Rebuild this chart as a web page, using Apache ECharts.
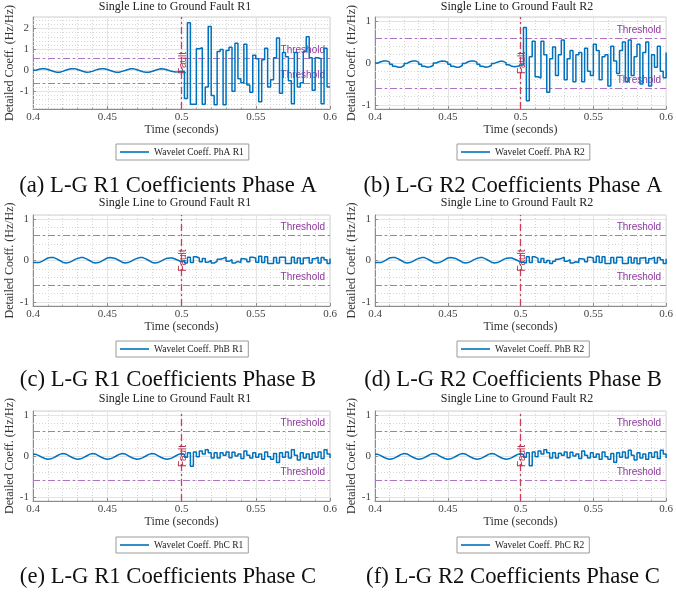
<!DOCTYPE html>
<html>
<head>
<meta charset="utf-8">
<script src="https://cdn.jsdelivr.net/npm/echarts@6/dist/echarts.min.js"></script>
<style>html,body{margin:0;padding:0;background:#fff;}#c{width:676px;height:595px;}</style>
</head>
<body>
<div id="c"></div>
<script>
// ---------- data ----------
const T_START = 0.4;
const T_STEP = 0.002;
const THRESHOLD = 0.6;
const FAULT_TIME = 0.5;
const X_TICKS = [0.4, 0.45, 0.5, 0.55, 0.6];

const titles = ['Single Line to Ground Fault R1', 'Single Line to Ground Fault R2',
                'Single Line to Ground Fault R1', 'Single Line to Ground Fault R2',
                'Single Line to Ground Fault R1', 'Single Line to Ground Fault R2'];
const seriesNames = ['Wavelet Coeff. PhA R1', 'Wavelet Coeff. PhA R2',
                     'Wavelet Coeff. PhB R1', 'Wavelet Coeff. PhB R2',
                     'Wavelet Coeff. PhC R1', 'Wavelet Coeff. PhC R2'];
const captions = ['(a) L-G R1 Coefficients Phase A', '(b) L-G R2 Coefficients Phase A',
                  '(c) L-G R1 Coefficients Phase B', '(d) L-G R2 Coefficients Phase B',
                  '(e) L-G R1 Coefficients Phase C', '(f) L-G R2 Coefficients Phase C'];
const yMin = [-1.85, -1.1, -1.1, -1.1, -1.1, -1.1];
const yMax = [2.55, 1.1, 1.1, 1.1, 1.1, 1.1];

// samples 0.400 ... 0.498 (pre-fault)
const preA = [0.00,0.05,0.08,0.07,0.04,-0.01,-0.06,-0.09,-0.09,-0.05,
              0.00,0.05,0.08,0.08,0.04,-0.01,-0.06,-0.09,-0.08,-0.05,
              0.01,0.05,0.08,0.07,0.04,-0.01,-0.06,-0.09,-0.09,-0.05,
             -0.01,0.04,0.07,0.07,0.03,-0.02,-0.07,-0.09,-0.09,-0.06,
             -0.01,0.04,0.07,0.06,0.03,-0.02,-0.06,-0.08,-0.07,-0.05];
// samples 0.500 ... 0.600 (post-fault)
const postA = [-0.04,-1.35,2.28,-1.62,-1.62,1.03,1.08,-1.62,-0.80,2.10,
               -1.20,-1.65,0.90,1.00,-1.65,0.95,1.10,-1.00,1.30,-0.40,
               -0.60,1.25,-0.70,-1.05,0.72,0.55,-1.50,0.50,1.05,-0.80,
               -0.45,0.60,1.55,-1.10,0.85,0.65,-0.50,-1.60,0.85,-0.80,
               -0.60,0.90,1.60,0.60,-0.95,0.60,0.55,-1.60,1.05,-0.80,-0.80];

const preB = [0.00,0.03,0.05,0.05,0.02,-0.03,-0.08,-0.10,-0.10,-0.06,
             -0.01,0.03,0.05,0.05,0.02,-0.03,-0.08,-0.10,-0.09,-0.06,
              0.00,0.03,0.05,0.04,0.02,-0.03,-0.08,-0.10,-0.10,-0.06,
             -0.01,0.03,0.05,0.05,0.02,-0.03,-0.08,-0.10,-0.09,-0.06,
             -0.01,0.02,0.04,0.04,0.01,-0.04,-0.08,-0.09,-0.08,-0.05];
const postB = [-0.05,0.85,-0.90,0.15,0.52,-0.33,-0.36,0.52,0.20,-0.70,
               0.10,0.38,-0.30,0.20,0.55,-0.40,0.10,0.30,-0.45,0.20,
               0.25,-0.45,0.35,-0.20,-0.30,0.45,0.30,-0.40,0.15,0.20,
              -0.55,0.40,0.05,-0.25,0.30,0.50,-0.45,0.55,-0.30,0.15,
               0.45,-0.50,0.25,0.50,-0.55,0.20,-0.10,0.40,-0.20,-0.35,0.25];

const preC = [-0.05,-0.05,-0.02,0.02,0.06,0.07,0.07,0.04,0.00,-0.04,
              -0.06,-0.05,-0.02,0.02,0.05,0.07,0.07,0.04,0.00,-0.04,
              -0.06,-0.05,-0.02,0.02,0.06,0.07,0.06,0.04,0.00,-0.04,
              -0.06,-0.05,-0.02,0.02,0.05,0.07,0.07,0.04,0.00,-0.04,
              -0.06,-0.05,-0.02,0.02,0.05,0.06,0.06,0.03,0.00,-0.03];
const postC = [0.00,-0.06,0.08,-0.05,0.09,0.06,-0.03,0.05,-0.04,0.00,
              -0.06,-0.02,0.03,0.05,0.08,-0.02,0.02,-0.06,-0.02,-0.05,
               0.04,0.03,-0.03,0.08,0.06,-0.04,0.10,-0.05,0.09,-0.07,
              -0.07,0.07,-0.06,0.08,0.08,-0.07,-0.07,0.08,-0.06,0.06,
              -0.08,0.06,0.07,-0.06,0.04,0.08,-0.06,0.07,0.02,-0.07,0.05];

const preD = [-0.05,-0.05,-0.02,0.02,0.06,0.07,0.07,0.04,0.00,-0.04,
              -0.06,-0.05,-0.02,0.02,0.05,0.07,0.07,0.04,0.00,-0.04,
              -0.06,-0.05,-0.02,0.02,0.06,0.07,0.06,0.04,0.00,-0.04,
              -0.06,-0.05,-0.02,0.02,0.05,0.07,0.07,0.04,0.00,-0.04,
              -0.06,-0.05,-0.02,0.02,0.05,0.06,0.06,0.03,0.00,-0.04];
const postD = [-0.04,-0.06,0.09,-0.05,0.09,0.05,-0.04,0.05,-0.05,0.00,
               -0.07,-0.02,0.03,0.05,0.08,-0.02,0.02,-0.06,-0.03,-0.05,
                0.04,0.03,-0.03,0.08,0.06,-0.04,0.10,-0.05,0.09,-0.07,
               -0.07,0.07,-0.06,0.08,0.08,-0.07,-0.07,0.08,-0.06,0.06,
               -0.08,0.06,0.07,-0.06,0.04,0.08,-0.06,0.07,0.02,-0.07,0.04];

const preE = [0.04,0.01,-0.03,-0.06,-0.08,-0.07,-0.04,0.00,0.04,0.06,
              0.05,0.01,-0.03,-0.06,-0.08,-0.07,-0.04,0.00,0.04,0.06,
              0.05,0.01,-0.03,-0.06,-0.08,-0.07,-0.04,0.00,0.04,0.06,
              0.05,0.01,-0.03,-0.06,-0.08,-0.07,-0.04,0.00,0.04,0.06,
              0.05,0.01,-0.03,-0.06,-0.08,-0.07,-0.04,0.00,0.04,0.06];
const postE = [0.04,-0.03,0.08,-0.25,0.10,-0.02,0.12,0.05,0.15,0.08,
              -0.05,0.08,-0.05,0.08,0.02,0.10,-0.04,0.09,0.00,0.05,
              -0.06,0.12,0.02,-0.05,0.08,-0.03,0.05,-0.08,0.10,-0.02,
              -0.08,0.06,-0.16,0.08,-0.03,0.10,-0.05,0.15,0.02,-0.10,
               0.08,-0.05,0.05,-0.08,0.08,-0.03,0.10,-0.06,0.15,0.05,-0.05];

const preF = [0.04,0.01,-0.03,-0.06,-0.08,-0.07,-0.04,0.00,0.04,0.06,
              0.05,0.01,-0.03,-0.06,-0.08,-0.07,-0.04,0.00,0.04,0.06,
              0.05,0.01,-0.03,-0.06,-0.08,-0.07,-0.04,0.00,0.04,0.06,
              0.05,0.01,-0.03,-0.06,-0.08,-0.07,-0.04,0.00,0.04,0.06,
              0.05,0.01,-0.03,-0.06,-0.08,-0.07,-0.04,0.00,0.04,0.06];
const postF = [0.04,-0.03,0.08,-0.24,0.10,-0.02,0.12,0.05,0.15,0.08,
              -0.05,0.08,-0.05,0.07,0.02,0.10,-0.04,0.09,0.00,0.05,
              -0.06,0.12,0.02,-0.05,0.08,-0.03,0.05,-0.08,0.10,-0.02,
              -0.08,0.06,-0.15,0.08,-0.03,0.10,-0.05,0.14,0.02,-0.10,
               0.08,-0.05,0.05,-0.08,0.08,-0.03,0.10,-0.06,0.14,0.05,-0.05];

const allValues = [preA.concat(postA), preB.concat(postB), preC.concat(postC),
                   preD.concat(postD), preE.concat(postE), preF.concat(postF)];

// ---------- layout ----------
const colLeft = [33, 375];
const plotW = 297;
const rowTop = [17, 215, 411];
const rowH = [92, 91, 90];
const titleY = [7, 203, 399];
const titleX = [175, 517];
const captionY = [186, 380, 577];
const captionX = [168, 513];
const legendLeft = [116, 457];
const legendTop = [144, 341, 537];

const SERIF = '"Liberation Serif", "Times New Roman", serif';
const SANS = '"Liberation Sans", Arial, sans-serif';
const BLUE = '#0072BD';
const PURPLE_LINE = '#b072c4';
const PURPLE_TEXT = '#8e3a9e';
const RED_LINE = '#cc3d5c';
const RED_TEXT = '#b5304c';
const DASHDOT = [7, 3, 2, 3];

const grids = [], xAxes = [], yAxes = [], series = [], legends = [], graphics = [];

for (let p = 0; p < 6; p++) {
  const col = p % 2, row = Math.floor(p / 2);
  grids.push({
    left: colLeft[col], top: rowTop[row], width: plotW, height: rowH[row],
    show: true, borderColor: '#cfcfcf', borderWidth: 1, backgroundColor: 'transparent'
  });
  xAxes.push({
    type: 'value', gridIndex: p, min: X_TICKS[0], max: X_TICKS[X_TICKS.length - 1], interval: 0.05,
    name: 'Time (seconds)', nameLocation: 'middle', nameGap: 15,
    nameTextStyle: { fontFamily: SERIF, fontSize: 12, color: '#333' },
    axisLine: { show: true, onZero: false, lineStyle: { color: '#8c8c8c', width: 1 } },
    axisTick: { show: true, inside: true, length: 3, lineStyle: { color: '#8c8c8c' } },
    minorTick: { show: true, splitNumber: 5, length: 1.5, lineStyle: { color: '#aaa' } },
    axisLabel: { margin: 3, fontFamily: SERIF, fontSize: 11, color: '#444',
      formatter: v => String(+v.toFixed(2)) },
    splitLine: { show: true, lineStyle: { color: '#e4e4e4', width: 1 } },
    minorSplitLine: { show: true, lineStyle: { color: '#d6d6d6', width: 1, type: [1, 2] } }
  });
  yAxes.push({
    type: 'value', gridIndex: p, min: yMin[p], max: yMax[p], splitNumber: p === 0 ? 4 : 2,
    name: 'Detailed Coeff. (Hz/Hz)', nameLocation: 'middle', nameGap: col === 0 ? 14 : 15,
    nameTextStyle: { fontFamily: SERIF, fontSize: 12, color: '#333' },
    axisLine: { show: true, onZero: false, lineStyle: { color: '#8c8c8c', width: 1 } },
    axisTick: { show: true, inside: true, length: 3, lineStyle: { color: '#8c8c8c' } },
    minorTick: { show: false },
    axisLabel: { margin: 4, fontFamily: SERIF, fontSize: 11, color: '#444',
      showMinLabel: false, showMaxLabel: false },
    splitLine: { show: true, lineStyle: { color: '#e4e4e4', width: 1 } },
    minorSplitLine: { show: false }
  });
  const vals = allValues[p];
  const data = vals.map((v, i) => [+(T_START + i * T_STEP).toFixed(3), v]);
  // minor horizontal grid positions (every 0.2 between integer ticks)
  const minorY = [];
  for (let k = Math.ceil(yMin[p] / 0.2); k <= Math.floor(yMax[p] / 0.2); k++) {
    const v = +(k * 0.2).toFixed(1);
    if (Math.abs(v - Math.round(v)) > 1e-6) minorY.push(v);
  }
  series.push({
    type: 'line', name: 'minor-grid-' + p, xAxisIndex: p, yAxisIndex: p, data: [],
    silent: true, z: 1,
    markLine: {
      silent: true, symbol: ['none', 'none'], animation: false, label: { show: false },
      lineStyle: { color: '#d6d6d6', width: 1, type: [1, 2] },
      data: minorY.map(v => ({ yAxis: v }))
    }
  });
  series.push({
    type: 'line', name: seriesNames[p], xAxisIndex: p, yAxisIndex: p,
    data: data, step: 'end', symbol: 'none', showSymbol: false,
    lineStyle: { color: BLUE, width: 1.5 }, itemStyle: { color: BLUE },
    z: 5
  });
  series.push({
    type: 'line', name: 'ref-lines-' + p, xAxisIndex: p, yAxisIndex: p, data: [],
    silent: true, z: 8,
    markLine: {
      silent: true, symbol: ['none', 'none'], animation: false,
      data: [
        { yAxis: THRESHOLD, lineStyle: { color: PURPLE_LINE, width: 1.2, type: DASHDOT },
          label: { show: true, formatter: 'Threshold', position: 'insideEndTop', distance: [5, 3],
                   color: PURPLE_TEXT, fontFamily: SANS, fontSize: 10 } },
        { yAxis: -THRESHOLD, lineStyle: { color: PURPLE_LINE, width: 1.2, type: DASHDOT },
          label: { show: true, formatter: 'Threshold', position: 'insideEndTop', distance: [5, 3],
                   color: PURPLE_TEXT, fontFamily: SANS, fontSize: 10 } },
        { xAxis: FAULT_TIME, lineStyle: { color: RED_LINE, width: 1.3, type: DASHDOT },
          label: { show: true, formatter: 'Fault', position: 'middle', distance: -7,
                   color: RED_TEXT, fontFamily: SANS, fontSize: 10 } }
      ]
    }
  });
  legends.push({
    data: [{ name: seriesNames[p], icon: 'rect' }], left: legendLeft[col], top: legendTop[row],
    orient: 'horizontal', itemWidth: 29, itemHeight: 1.6, itemGap: 4,
    padding: [3, 5, 3, 4], borderColor: '#9a9a9a', borderWidth: 1,
    textStyle: { fontFamily: SERIF, fontSize: 9.5, color: '#222' },
    selectedMode: false
  });
  graphics.push({
    type: 'text', x: titleX[col], y: titleY[row],
    style: { text: titles[p], textAlign: 'center', textVerticalAlign: 'middle',
             font: '12px ' + SERIF, fill: '#222' }
  });
  graphics.push({
    type: 'text', x: captionX[col], y: captionY[row],
    style: { text: captions[p], textAlign: 'center', textVerticalAlign: 'middle',
             font: '22.7px ' + SERIF, fill: '#111' }
  });
}

const chart = echarts.init(document.getElementById('c'), null, { renderer: 'canvas' });
chart.setOption({
  animation: false,
  backgroundColor: '#fff',
  grid: grids, xAxis: xAxes, yAxis: yAxes, series: series,
  legend: legends, graphic: graphics
});
</script>
</body>
</html>
